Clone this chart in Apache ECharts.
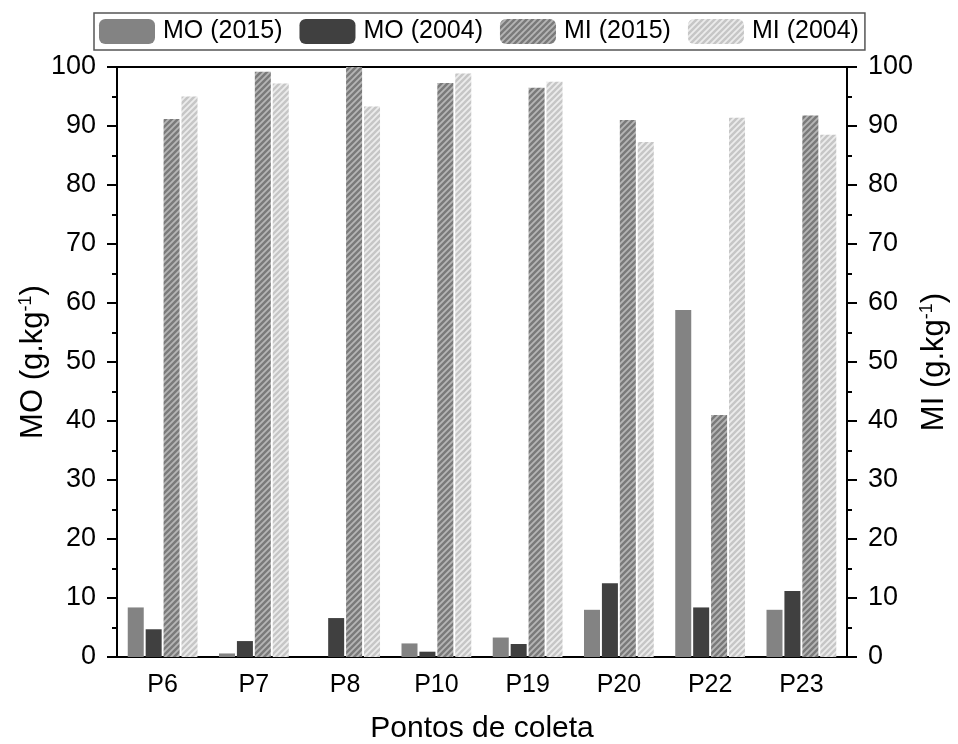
<!DOCTYPE html>
<html>
<head>
<meta charset="utf-8">
<script src="https://cdn.jsdelivr.net/npm/echarts@6/dist/echarts.min.js"></script>
<style>
  html, body { margin: 0; padding: 0; background: #fff; }
  #chart { width: 958px; height: 744px; }
</style>
</head>
<body>
<div id="chart"></div>
<script>
const categories = ['P6', 'P7', 'P8', 'P10', 'P19', 'P20', 'P22', 'P23'];
const mo2015 = [8.4, 0.6, 0, 2.3, 3.3, 8.0, 58.8, 8.0];
const mo2004 = [4.7, 2.7, 6.6, 0.9, 2.2, 12.5, 8.4, 11.2];
const mi2015 = [91.2, 99.2, 100, 97.3, 96.5, 91.0, 41.0, 91.8];
const mi2004 = [95.0, 97.2, 93.3, 98.9, 97.5, 87.3, 91.4, 88.5];
const yTicks = { min: 0, max: 100, interval: 10 };

const FONT = 'Liberation Sans, Arial, sans-serif';

// hachura diagonal "/"
function makeHatch(bg, fg) {
    const s = 6;
    const c = document.createElement('canvas');
    c.width = s; c.height = s;
    const ctx = c.getContext('2d');
    ctx.fillStyle = bg;
    ctx.fillRect(0, 0, s, s);
    ctx.strokeStyle = fg;
    ctx.lineWidth = 1.8;
    ctx.beginPath();
    ctx.moveTo(-1, s + 1); ctx.lineTo(s + 1, -1);
    ctx.moveTo(-1, 1); ctx.lineTo(1, -1);
    ctx.moveTo(s - 1, s + 1); ctx.lineTo(s + 1, s - 1);
    ctx.stroke();
    return { image: c, repeat: 'repeat' };
}

const chart = echarts.init(document.getElementById('chart'));

const supName = {
    fontSize: 31, fontFamily: FONT, color: '#000',
    rich: {
        sup: { fontSize: 18, fontFamily: FONT, color: '#000', verticalAlign: 'top', padding: [0, 0, 15, 0] }
    }
};

function yAxis(position, name, gap) {
    return {
        type: 'value',
        position: position,
        min: yTicks.min, max: yTicks.max, interval: yTicks.interval,
        name: name,
        nameLocation: 'middle',
        nameRotate: 90,
        nameGap: gap,
        nameMoveOverlap: false,
        nameTextStyle: supName,
        axisLine: { show: true, lineStyle: { color: '#000', width: 2 } },
        axisTick: { show: true, inside: false, length: 10, lineStyle: { color: '#000', width: 2 } },
        minorTick: { show: true, splitNumber: 2, length: 5, lineStyle: { color: '#000', width: 2 } },
        axisLabel: { margin: 21, fontSize: 27, fontFamily: FONT, color: '#000' },
        splitLine: { show: false }
    };
}

const option = {
    animation: false,
    backgroundColor: '#fff',
    grid: {
        left: 117, right: 111, top: 67, bottom: 87,
        outerBoundsMode: 'none',
        show: true, borderColor: '#000', borderWidth: 2, backgroundColor: 'transparent'
    },
    legend: {
        left: 94, top: 13,
        padding: [6, 6, 6, 5],
        itemWidth: 56, itemHeight: 25, itemGap: 17,
        borderColor: '#555', borderWidth: 1.5,
        textStyle: { fontSize: 25, fontFamily: FONT, color: '#000', padding: [0, 0, 0, 3] },
        itemStyle: { borderWidth: 0 }
    },
    xAxis: {
        type: 'category',
        data: categories,
        name: 'Pontos de coleta',
        nameLocation: 'middle',
        nameGap: 57,
        nameMoveOverlap: false,
        nameTextStyle: { fontSize: 30, fontFamily: FONT, color: '#000' },
        axisLine: { lineStyle: { color: '#000', width: 2 } },
        axisTick: { alignWithLabel: true, length: 10, lineStyle: { color: '#000', width: 2 } },
        axisLabel: { margin: 16, fontSize: 25, fontFamily: FONT, color: '#000' }
    },
    yAxis: [
        yAxis('left', 'MO (g.kg{sup|-1})', 67),
        yAxis('right', 'MI (g.kg{sup|-1})', 71)
    ],
    series: [
        { name: 'MO (2015)', type: 'bar', yAxisIndex: 0, data: mo2015, barWidth: 16, barGap: '12%',
          itemStyle: { color: '#838383' } },
        { name: 'MO (2004)', type: 'bar', yAxisIndex: 0, data: mo2004, barWidth: 16, barGap: '12%',
          itemStyle: { color: '#404040' } },
        { name: 'MI (2015)', type: 'bar', yAxisIndex: 1, data: mi2015, barWidth: 16, barGap: '12%',
          itemStyle: { color: makeHatch('#7a7a7a', '#b6b6b6') } },
        { name: 'MI (2004)', type: 'bar', yAxisIndex: 1, data: mi2004, barWidth: 16, barGap: '12%',
          itemStyle: { color: makeHatch('#c6c6c6', '#ececec') } }
    ]
};

chart.setOption(option);
</script>
</body>
</html>
